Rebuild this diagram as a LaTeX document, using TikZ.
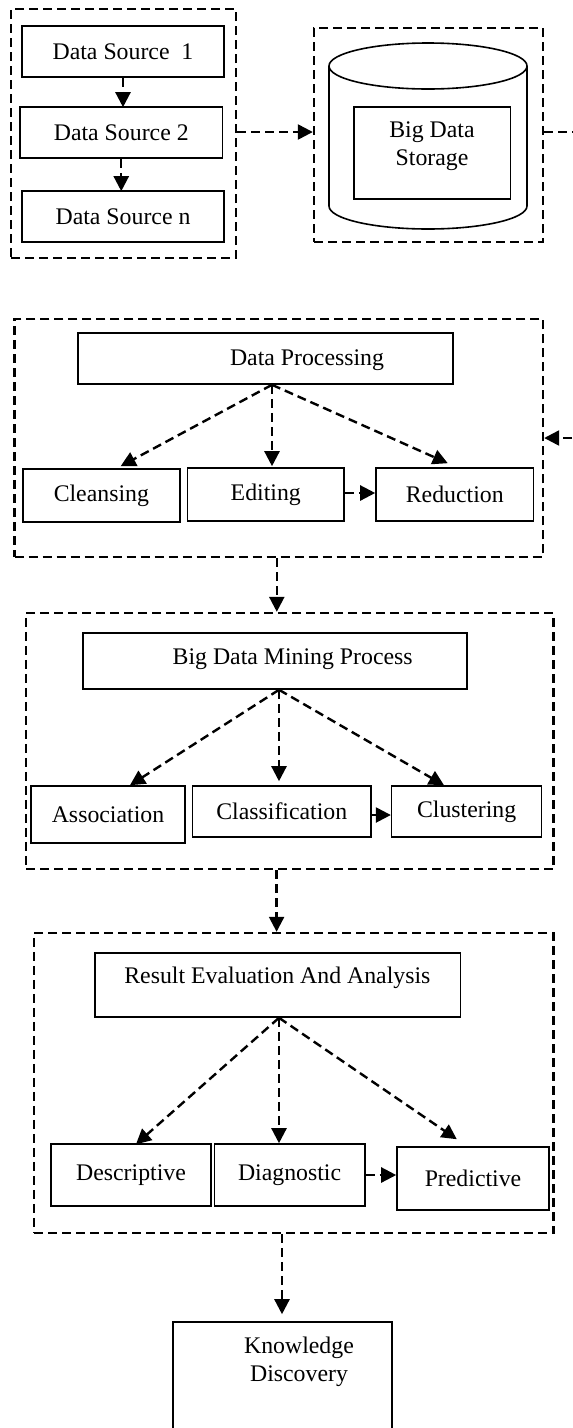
\documentclass[tikz,border=0pt]{standalone}
\usepackage{fontspec}
\setmainfont{Liberation Serif}
\usetikzlibrary{arrows.meta}
\tikzset{
  txt/.style={font=\fontsize{23.8}{28}\selectfont, align=center},
  box/.style={draw, line width=1.6pt, inner sep=0pt, txt},
  lbl/.style={inner sep=0pt, txt},
  group/.style={draw, line width=2.4pt, dash pattern=on 9pt off 5pt, inner sep=0pt},
  flow/.style={line width=2.4pt, dash pattern=on 9pt off 5pt,
               -{Triangle[length=15pt,width=15pt]}},
}
\begin{document}
\begin{tikzpicture}[x=1pt,y=-1pt]
\useasboundingbox (0,0) rectangle (573,1428);

% ---- data sources ----
\node[group, minimum width=225pt, minimum height=249pt] (src) at (123.5,133.5) {};
\node[box, minimum width=202pt, minimum height=51pt] (ds1) at (123,51.5) {Data Source\ \ 1};
\node[box, minimum width=202.5pt, minimum height=51pt] (ds2) at (121.25,132.5) {Data Source 2};
\node[box, minimum width=202pt, minimum height=51pt] (dsn) at (123,216.5) {Data Source n};
\draw[flow] (ds1.south) -- ([yshift=-1pt]ds1.south |- ds2.north);
\draw[flow] (ds2.south) -- ([yshift=-1pt]ds2.south |- dsn.north);

% ---- storage ----
\node[group, minimum width=229pt, minimum height=214pt] (sto) at (428.5,135) {};
\draw[line width=1.6pt] (428,66) ellipse[x radius=99, y radius=23];
\draw[line width=1.6pt] (329,66) -- (329,206)
  arc[start angle=180, end angle=0, x radius=99, y radius=23] -- (527,66);
\node[box, minimum width=156.5pt, minimum height=92pt] (bds) at (432.25,153) {};
\node[lbl] (bdslbl) at (432,146) {Big Data\\Storage};
\draw[flow] ([yshift=1.5pt]src.east) -- ([yshift=1.5pt]src.east -| sto.west);

% ---- processing ----
\node[group, minimum width=528.4pt, minimum height=238pt] (proc) at (278.8,438) {};
\draw[flow] ([yshift=3pt]sto.east) -- ++(36,0) |- (proc.east);
\node[box, minimum width=375pt, minimum height=51pt] (dp) at (265.5,358.5) {};
\node[lbl] (dplbl) at (307,360) {Data Processing};
\node[box, minimum width=157.3pt, minimum height=53pt] (cln) at (101.35,495.5) {Cleansing};
\node[box, minimum width=156.5pt, minimum height=53pt] (edt) at (265.75,494.5) {Editing};
\node[box, minimum width=157.5pt, minimum height=53pt] (red) at (454.75,494.5) {Reduction};
\coordinate (dpo) at ([xshift=6.5pt]dp.south);
\draw[flow] (dpo) -- ([xshift=19.3pt,yshift=2pt]cln.north);
\draw[flow] (dpo) -- ([yshift=1pt]dpo |- edt.north);
\draw[flow] (dpo) -- ([xshift=-7pt,yshift=4pt]red.north);
\draw[flow] ([yshift=1.5pt]edt.east) -- ([yshift=1.5pt]red.west);

% ---- mining ----
\node[group, minimum width=527.6pt, minimum height=256pt] (mine) at (289.8,741) {};
\draw[flow] ([xshift=-2pt]proc.south) -- ([xshift=-2pt]proc.south |- mine.north);
\node[box, minimum width=384pt, minimum height=56pt] (bdm) at (275,661) {};
\node[lbl] (bdmlbl) at (292.7,659) {Big Data Mining Process};
\node[box, minimum width=154pt, minimum height=57pt] (asc) at (108,814.5) {Association};
\node[box, minimum width=178.4pt, minimum height=51pt] (cls) at (281.8,811.5) {Classification};
\node[box, minimum width=150pt, minimum height=51pt] (clu) at (466.65,811.5) {Clustering};
\coordinate (bdmo) at ([xshift=4pt]bdm.south);
\draw[flow] (bdmo) -- ([xshift=22pt]asc.north);
\draw[flow] (bdmo) -- ([yshift=4pt]bdmo |- cls.north);
\draw[flow] (bdmo) -- ([xshift=-22.65pt]clu.north);
\draw[flow] ([yshift=-3.5pt]cls.east) -- ([yshift=-3.5pt]cls.east -| clu.west);

% ---- evaluation ----
\node[group, minimum width=519.6pt, minimum height=300pt] (res) at (293.8,1083) {};
\draw[flow] ([xshift=-13.2pt]mine.south) -- ([xshift=-13.2pt]mine.south |- res.north);
\node[box, minimum width=365.5pt, minimum height=64pt] (rea) at (277.75,985) {};
\node[lbl] (realbl) at (277.4,978) {Result Evaluation And Analysis};
\node[box, minimum width=160pt, minimum height=62pt] (des) at (131,1175) {Descriptive};
\node[box, minimum width=150.2pt, minimum height=62pt] (dia) at (289.6,1175) {Diagnostic};
\node[box, minimum width=152pt, minimum height=63pt] (pre) at (473,1178.5) {Predictive};
\coordinate (reao) at ([xshift=1.25pt]rea.south);
\draw[flow] (reao) -- ([xshift=5pt,yshift=-1pt]des.north);
\draw[flow] (reao) -- (reao |- dia.north);
\draw[flow] (reao) -- ([xshift=-16.2pt,yshift=7pt]pre.north);
\draw[flow] (dia.east) -- (dia.east -| pre.west);

% ---- knowledge ----
\node[box, minimum width=219pt, minimum height=110pt] (kd) at (282.5,1377) {};
\node[lbl] (kdlbl) at (299,1362) {Knowledge\\Discovery};
\draw[flow] ([xshift=-11.8pt]res.south) -- ([xshift=-11.8pt,yshift=7pt]res.south |- kd.north);
\end{tikzpicture}
\end{document}
